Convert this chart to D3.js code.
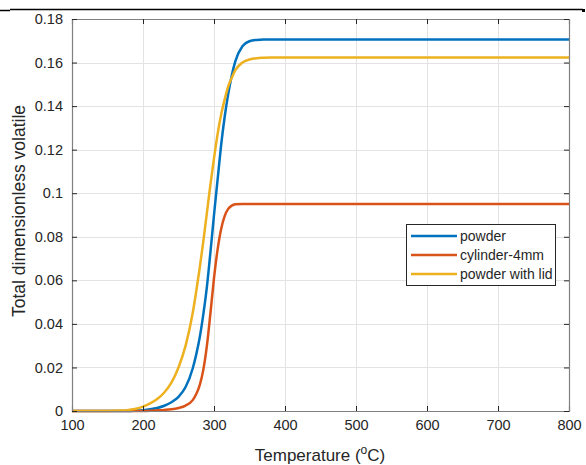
<!DOCTYPE html>
<html><head><meta charset="utf-8">
<script src="https://cdn.jsdelivr.net/npm/d3@7"></script>
<style>
html,body{margin:0;padding:0;background:#fff;}
svg{display:block;font-family:"Liberation Sans",Arial,Helvetica,sans-serif;}
</style></head>
<body><svg id="chart" width="586" height="465"></svg>
<script>
const temperature = [100,150,170,180,190,200,210,220,230,240,250,260,270,275,280,285,290,295,300,305,310,315,320,325,330,340,350,360,370,380,400,800];
const powder =      [0,0,0,0,0.0002,0.0004,0.0008,0.0014,0.0024,0.004,0.0065,0.011,0.0195,0.026,0.034,0.0445,0.057,0.073,0.090,0.106,0.122,0.135,0.1455,0.154,0.1605,0.1675,0.1698,0.1704,0.1706,0.1706,0.1706,0.1706];
const cylinder4mm = [0,0,0,0,0,0,0.0001,0.0003,0.0005,0.0008,0.0014,0.0025,0.005,0.0078,0.012,0.019,0.030,0.045,0.061,0.074,0.0835,0.0895,0.0928,0.0943,0.0949,0.0951,0.0951,0.0951,0.0951,0.0951,0.0951,0.0951];
const powderLid =   [0,0,0.0002,0.0005,0.001,0.002,0.0035,0.0055,0.0085,0.013,0.020,0.030,0.045,0.055,0.066,0.078,0.091,0.104,0.116,0.127,0.136,0.143,0.149,0.153,0.1565,0.1600,0.1614,0.1620,0.1622,0.1623,0.1623,0.1623];
const seriesNames = ["powder","cylinder-4mm","powder with lid"];
const seriesColors = ["#0072BD","#D95319","#EDB120"];
const xTicks = [100,200,300,400,500,600,700,800];
const yTicks = [0,0.02,0.04,0.06,0.08,0.1,0.12,0.14,0.16,0.18];
const xLabel = "Temperature (";
const yLabel = "Total dimensionless volatile";

const svg = d3.select("#chart");
const m = {l:72, r:569, t:19, b:411};
const x = d3.scaleLinear().domain([100,800]).range([m.l,m.r]);
const y = d3.scaleLinear().domain([0,0.18]).range([m.b,m.t]);
const axisCol = "#262626";
const gridCol = "#e3e3e3";

// top frame artifact
svg.append("line").attr("x1",10).attr("x2",583).attr("y1",9.5).attr("y2",9.5).attr("stroke","#000").attr("stroke-width",1.5);
svg.append("line").attr("x1",0).attr("x2",10).attr("y1",10.5).attr("y2",10.5).attr("stroke","#000").attr("stroke-width",1.5);
svg.append("rect").attr("x",582).attr("y",9).attr("width",3).attr("height",3).attr("fill","#000");

// grid
const g = svg.append("g");
g.selectAll(".gx").data(xTicks.slice(1,-1)).enter().append("line")
 .attr("x1",d=>Math.round(x(d))+0.5).attr("x2",d=>Math.round(x(d))+0.5).attr("y1",m.t).attr("y2",m.b)
 .attr("stroke",gridCol).attr("stroke-width",1);
g.selectAll(".gy").data(yTicks.slice(1,-1)).enter().append("line")
 .attr("y1",d=>Math.round(y(d))+0.5).attr("y2",d=>Math.round(y(d))+0.5).attr("x1",m.l).attr("x2",m.r)
 .attr("stroke",gridCol).attr("stroke-width",1);

// lines
const datasets = [powder, cylinder4mm, powderLid];
const line = d3.line().x((d,i)=>x(temperature[i])).y(d=>y(d)).curve(d3.curveMonotoneX);
datasets.forEach((ds,k)=>{
  svg.append("path").datum(ds).attr("d",line).attr("fill","none")
   .attr("stroke",seriesColors[k]).attr("stroke-width",2.5);
});

// axes
const fmt = d => String(+d.toFixed(2));
const axB = d3.axisBottom(x).tickValues(xTicks).tickSize(-5).tickPadding(9).tickFormat(d3.format("d"));
const axT = d3.axisTop(x).tickValues(xTicks).tickSize(-5).tickFormat("");
const axL = d3.axisLeft(y).tickValues(yTicks).tickSize(-5).tickPadding(9).tickFormat(fmt);
const axR = d3.axisRight(y).tickValues(yTicks).tickSize(-5).tickFormat("");
[[axB,`translate(0,${m.b})`],[axT,`translate(0,${m.t})`],[axL,`translate(${m.l},0)`],[axR,`translate(${m.r},0)`]].forEach(([ax,tr])=>{
  const a = svg.append("g").attr("transform",tr).call(ax);
  a.select(".domain").attr("stroke","#808080").attr("stroke-width",1.2);
  a.selectAll(".tick line").attr("stroke",axisCol);
  a.selectAll(".tick text").attr("fill","#262626").attr("font-size",14.5).attr("font-family","Liberation Sans, Arial, sans-serif");
});

// axis labels
const xl = svg.append("text").attr("x",320).attr("y",461).attr("text-anchor","middle")
 .attr("font-size",17).attr("fill","#262626");
xl.append("tspan").text(xLabel);
xl.append("tspan").attr("dy",-7).attr("font-size",12).text("o");
xl.append("tspan").attr("dy",7).text("C)");
svg.append("text").attr("transform","translate(25,211) rotate(-90)").attr("text-anchor","middle")
 .attr("font-size",17.5).attr("fill","#262626").text(yLabel);

// legend
const lg = svg.append("g");
lg.append("rect").attr("x",406.5).attr("y",224.5).attr("width",149).attr("height",61)
 .attr("fill","#fff").attr("stroke","#262626").attr("stroke-width",1);
seriesNames.forEach((n,k)=>{
  const yy = 236 + k*19;
  lg.append("line").attr("x1",411).attr("x2",457).attr("y1",yy).attr("y2",yy)
   .attr("stroke",seriesColors[k]).attr("stroke-width",2.5);
  lg.append("text").attr("x",460).attr("y",yy+5).attr("font-size",14).attr("fill","#262626").text(n);
});
</script></body></html>
